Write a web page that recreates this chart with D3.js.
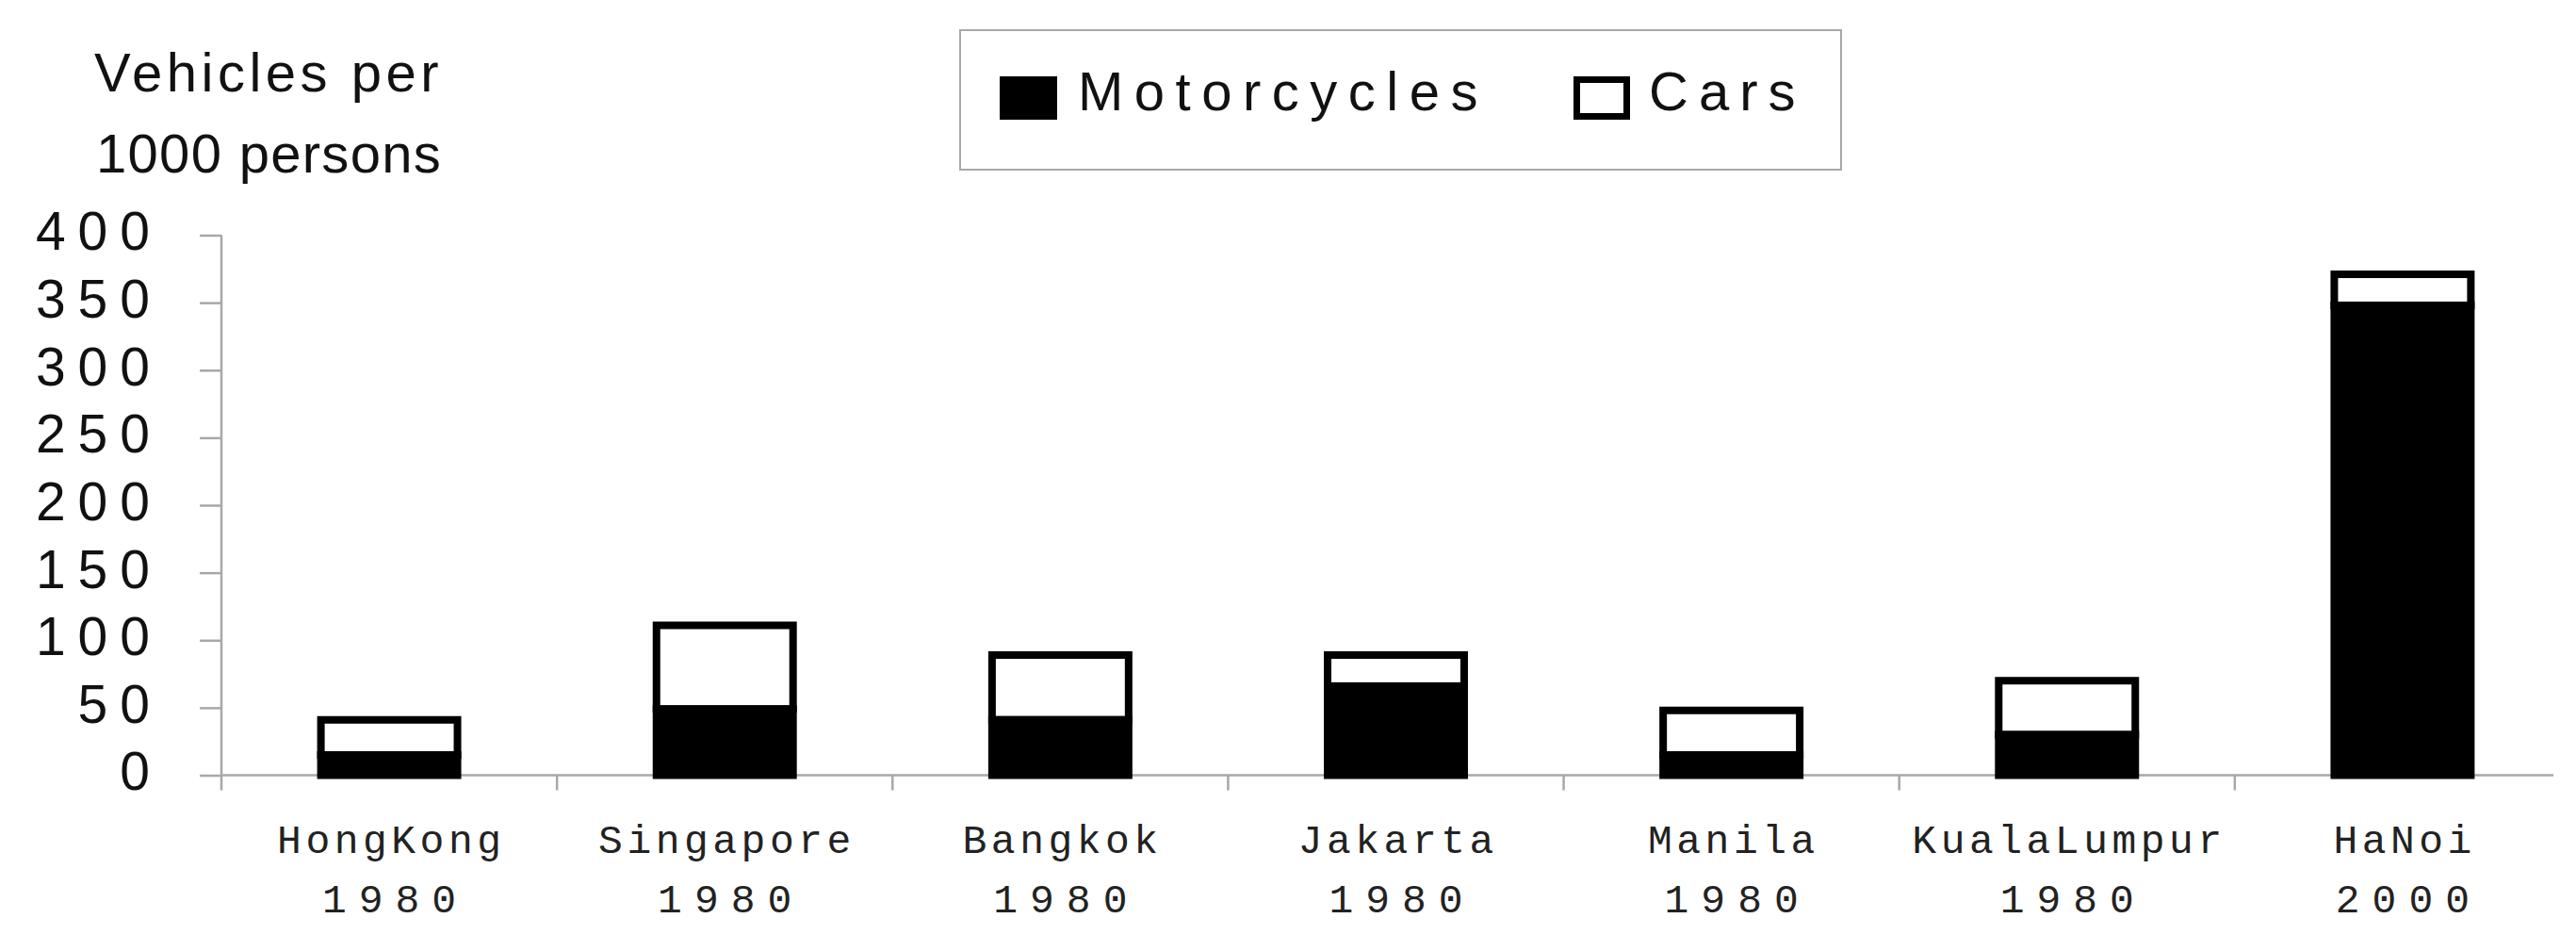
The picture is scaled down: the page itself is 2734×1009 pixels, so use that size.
<!DOCTYPE html>
<html>
<head>
<meta charset="utf-8">
<script src="https://cdn.jsdelivr.net/npm/d3@7"></script>
<style>
  html, body { margin: 0; padding: 0; background: #ffffff; }
  svg { display: block; }
</style>
</head>
<body>
<svg id="chart" width="2734" height="1009"></svg>
<script>
// ---- data ----
const cities = ["HongKong", "Singapore", "Bangkok", "Jakarta", "Manila", "KualaLumpur", "HaNoi"];
const years = ["1980", "1980", "1980", "1980", "1980", "1980", "2000"];
const motorcycles = [15, 49, 41, 66, 15, 30, 348];
const cars = [26, 62, 48, 23, 33, 40, 23];
const yTicks = [0, 50, 100, 150, 200, 250, 300, 350, 400];
const seriesNames = ["Motorcycles", "Cars"];
const yTitle = ["Vehicles per", "1000 persons"];

// ---- layout ----
const svg = d3.select("#chart");
const axisColor = "#a8a8a8";
const sans = "'Liberation Sans', Arial, Helvetica, sans-serif";
const mono = "'Courier New', 'Liberation Mono', monospace";

const plotLeft = 235, plotRight = 2728, y0px = 822.5, yTopPx = 249.5;

const x = d3.scaleBand()
  .domain(cities)
  .range([plotLeft, plotRight])
  .paddingInner(0.593)
  .paddingOuter(0.2965);

const y = d3.scaleLinear().domain([0, 400]).range([y0px, yTopPx]);

const rows = cities.map((c, i) => ({ city: c, year: years[i], moto: motorcycles[i], car: cars[i] }));

// ---- y axis ----
const yAxisG = svg.append("g")
  .attr("transform", `translate(${plotLeft},0)`)
  .call(d3.axisLeft(y).tickValues(yTicks).tickSize(23).tickPadding(40).tickFormat(d3.format("d")));
yAxisG.select(".domain").remove();
yAxisG.selectAll(".tick line").attr("stroke", axisColor).attr("stroke-width", 2.5);
yAxisG.selectAll(".tick text")
  .attr("fill", "#111")
  .attr("font-family", sans)
  .attr("font-size", 57)
  .attr("letter-spacing", 13)
  .attr("dy", "0.27em");

// vertical axis line
svg.append("line")
  .attr("x1", plotLeft).attr("x2", plotLeft)
  .attr("y1", y(400)).attr("y2", y(0) + 16)
  .attr("stroke", axisColor).attr("stroke-width", 2.5);

// baseline
svg.append("line")
  .attr("x1", plotLeft).attr("x2", 2710)
  .attr("y1", y(0)).attr("y2", y(0))
  .attr("stroke", axisColor).attr("stroke-width", 2.5);

// category divider ticks
const gap = x.step() * x.paddingInner();
svg.append("g").selectAll("line")
  .data(cities.slice(1))
  .join("line")
  .attr("x1", d => x(d) - gap / 2)
  .attr("x2", d => x(d) - gap / 2)
  .attr("y1", y(0))
  .attr("y2", y(0) + 16)
  .attr("stroke", axisColor).attr("stroke-width", 2.5);

// ---- bars ----
const bars = svg.append("g");
// cars (top, white with black outline)
bars.selectAll("rect.car")
  .data(rows)
  .join("rect")
  .attr("class", "car")
  .attr("x", d => x(d.city))
  .attr("width", x.bandwidth())
  .attr("y", d => y(d.moto + d.car))
  .attr("height", d => y(d.moto) - y(d.moto + d.car))
  .attr("fill", "#ffffff")
  .attr("stroke", "#000")
  .attr("stroke-width", 8);
// motorcycles (bottom, black)
bars.selectAll("rect.moto")
  .data(rows)
  .join("rect")
  .attr("class", "moto")
  .attr("x", d => x(d.city))
  .attr("width", x.bandwidth())
  .attr("y", d => y(d.moto))
  .attr("height", d => y(0) - y(d.moto))
  .attr("fill", "#000")
  .attr("stroke", "#000")
  .attr("stroke-width", 8);

// ---- x labels ----
const nameLS = 4.5, yearLS = 13;
const xl = svg.append("g");
xl.selectAll("text.name")
  .data(rows)
  .join("text")
  .attr("class", "name")
  .attr("x", d => x(d.city) + x.bandwidth() / 2 + nameLS / 2)
  .attr("y", 905)
  .attr("text-anchor", "middle")
  .attr("font-family", mono)
  .attr("font-size", 43)
  .attr("letter-spacing", nameLS)
  .attr("fill", "#222")
  .text(d => d.city);
xl.selectAll("text.year")
  .data(rows)
  .join("text")
  .attr("class", "year")
  .attr("x", d => x(d.city) + x.bandwidth() / 2 + yearLS / 2)
  .attr("y", 968)
  .attr("text-anchor", "middle")
  .attr("font-family", mono)
  .attr("font-size", 43)
  .attr("letter-spacing", yearLS)
  .attr("fill", "#222")
  .text(d => d.year);

// ---- y title ----
svg.append("text")
  .attr("x", 100).attr("y", 97)
  .attr("font-family", sans).attr("font-size", 58)
  .attr("letter-spacing", 4.5).attr("fill", "#111")
  .text(yTitle[0]);
svg.append("text")
  .attr("x", 102).attr("y", 183)
  .attr("font-family", sans).attr("font-size", 58)
  .attr("letter-spacing", 1.3).attr("fill", "#111")
  .text(yTitle[1]);

// ---- legend ----
const lg = svg.append("g");
lg.append("rect")
  .attr("x", 1019).attr("y", 32)
  .attr("width", 935).attr("height", 148)
  .attr("fill", "#fff").attr("stroke", axisColor).attr("stroke-width", 2);
lg.append("rect")
  .attr("x", 1061).attr("y", 81).attr("width", 61).attr("height", 46)
  .attr("fill", "#000");
lg.append("text")
  .attr("x", 1144).attr("y", 117)
  .attr("font-family", sans).attr("font-size", 58)
  .attr("letter-spacing", 11.5).attr("fill", "#111")
  .text(seriesNames[0]);
lg.append("rect")
  .attr("x", 1673.5).attr("y", 84.5).attr("width", 53).attr("height", 39)
  .attr("fill", "#fff").attr("stroke", "#000").attr("stroke-width", 7);
lg.append("text")
  .attr("x", 1750).attr("y", 117)
  .attr("font-family", sans).attr("font-size", 58)
  .attr("letter-spacing", 11).attr("fill", "#111")
  .text(seriesNames[1]);
</script>
</body>
</html>
